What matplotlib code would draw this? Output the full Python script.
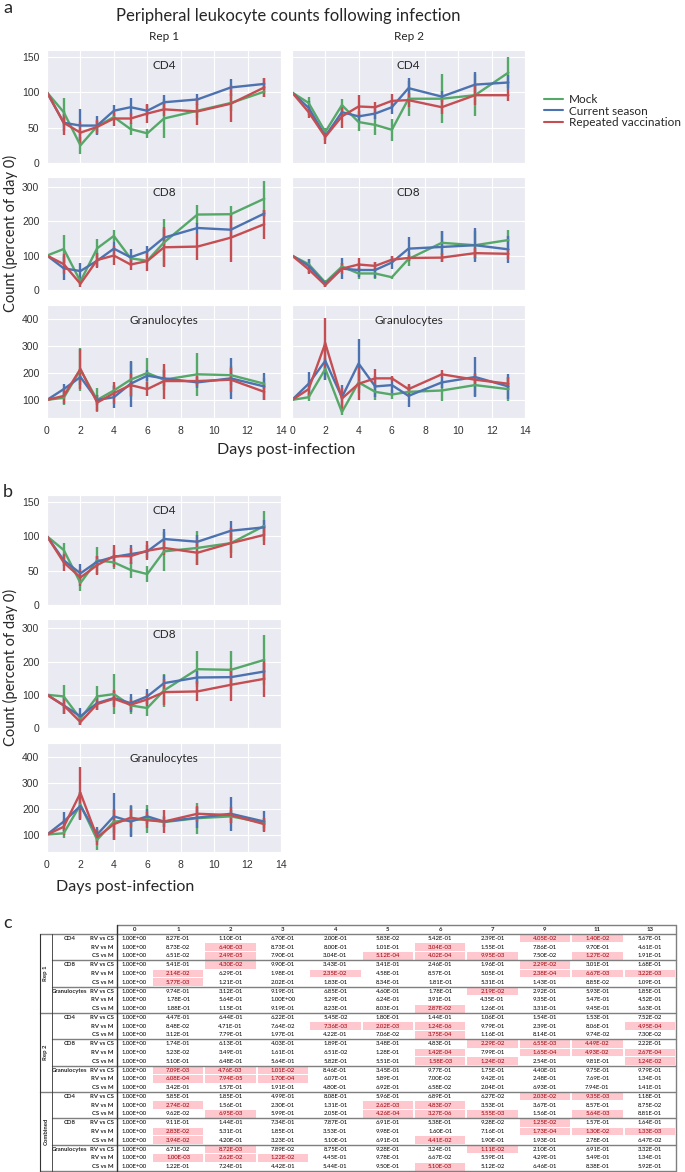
import matplotlib
matplotlib.use('Agg')
import matplotlib.pyplot as plt
import matplotlib.patches as mplpatches
from matplotlib.lines import Line2D
import seaborn as sns

sns.set_style('darkgrid')
plt.rcParams['font.family'] = ['Lato', 'DejaVu Sans']

# ---------------- data ----------------
days = [0, 1, 2, 3, 4, 5, 6, 7, 9, 11, 13]
groups = ['Mock', 'Current season', 'Repeated vaccination']
groupColors = ['#55A868', '#4C72B0', '#C44E52']

# means / sd, rows = Mock, Current season, Repeated vaccination
rep1_cd4_mean = [[100, 72, 25, 52, 65, 48, 42, 63, 74, 85, 101],
                 [100, 57, 53, 53, 74, 79, 74, 86, 90, 107, 112],
                 [100, 57, 43, 51, 63, 63, 70, 76, 73, 84, 107]]
rep1_cd4_sd = [[0, 20, 12, 8, 6, 9, 6, 27, 10, 12, 8],
               [0, 12, 24, 13, 8, 13, 8, 10, 8, 12, 8],
               [0, 17, 15, 10, 10, 8, 13, 10, 19, 26, 14]]
rep2_cd4_mean = [[100, 85, 44, 82, 58, 54, 47, 91, 91, 96, 128],
                 [100, 78, 38, 72, 66, 70, 79, 106, 94, 111, 114],
                 [100, 72, 37, 66, 80, 79, 88, 89, 79, 96, 96]]
rep2_cd4_sd = [[0, 8, 5, 8, 12, 14, 16, 25, 35, 30, 22],
               [0, 10, 6, 6, 8, 8, 10, 15, 8, 18, 10],
               [0, 8, 10, 16, 16, 8, 10, 10, 10, 14, 8]]

rep1_cd8_mean = [[100, 119, 25, 121, 157, 92, 85, 138, 219, 220, 265],
                 [100, 63, 55, 85, 120, 95, 112, 152, 180, 175, 222],
                 [100, 75, 18, 87, 100, 74, 84, 124, 126, 152, 191]]
rep1_cd8_sd = [[0, 40, 10, 28, 18, 10, 10, 68, 28, 25, 50],
               [0, 35, 22, 22, 20, 25, 15, 25, 15, 20, 10],
               [0, 30, 8, 20, 28, 15, 30, 58, 40, 70, 42]]
rep2_cd8_mean = [[100, 75, 22, 68, 48, 48, 37, 90, 137, 130, 145],
                 [100, 70, 18, 62, 58, 58, 80, 120, 125, 130, 118],
                 [100, 60, 14, 62, 74, 70, 88, 93, 94, 107, 105]]
rep2_cd8_sd = [[0, 15, 8, 10, 15, 15, 5, 20, 35, 40, 30],
               [0, 20, 8, 30, 20, 22, 20, 35, 45, 50, 40],
               [0, 15, 5, 15, 20, 10, 10, 10, 12, 15, 15]]

rep1_gran_mean = [[100, 108, 212, 100, 135, 175, 200, 175, 195, 192, 160],
                  [100, 140, 185, 100, 110, 160, 190, 180, 165, 180, 150],
                  [100, 115, 215, 90, 125, 155, 140, 170, 170, 175, 130]]
rep1_gran_sd = [[0, 25, 80, 45, 20, 65, 55, 40, 80, 35, 20],
                [0, 20, 30, 20, 40, 85, 20, 30, 20, 75, 50],
                [0, 30, 75, 30, 40, 40, 25, 65, 20, 45, 30]]
rep2_gran_mean = [[100, 110, 215, 55, 165, 130, 120, 130, 135, 155, 140],
                  [100, 160, 245, 110, 235, 150, 155, 115, 165, 185, 150],
                  [100, 140, 310, 105, 160, 180, 180, 140, 195, 175, 160]]
rep2_gran_sd = [[0, 15, 40, 10, 40, 30, 15, 20, 40, 40, 45],
                [0, 45, 70, 45, 90, 40, 30, 40, 20, 75, 45],
                [0, 30, 95, 40, 60, 35, 10, 20, 15, 25, 25]]

comb_cd4_mean = [[100, 80, 32, 65, 62, 51, 45, 78, 83, 90, 115],
                 [100, 65, 46, 63, 70, 74, 78, 96, 92, 108, 113],
                 [100, 62, 40, 58, 71, 71, 79, 83, 76, 90, 102]]
comb_cd4_sd = [[0, 10, 12, 20, 10, 12, 12, 28, 25, 15, 22],
               [0, 8, 14, 8, 10, 14, 10, 15, 10, 14, 10],
               [0, 12, 12, 14, 16, 12, 14, 10, 18, 22, 14]]
comb_cd8_mean = [[100, 95, 28, 95, 102, 68, 60, 113, 177, 175, 205],
                 [100, 68, 35, 75, 90, 75, 95, 135, 152, 153, 170],
                 [100, 68, 18, 72, 88, 70, 86, 108, 110, 130, 148]]
comb_cd8_sd = [[0, 35, 15, 32, 60, 25, 25, 50, 55, 58, 75],
               [0, 25, 25, 20, 20, 28, 22, 25, 20, 20, 25],
               [0, 25, 8, 18, 25, 15, 20, 40, 30, 50, 55]]
comb_gran_mean = [[100, 105, 215, 80, 150, 155, 160, 148, 163, 170, 145],
                  [100, 150, 210, 100, 170, 150, 170, 150, 165, 180, 150],
                  [100, 130, 260, 90, 140, 165, 155, 150, 180, 175, 140]]
comb_gran_sd = [[0, 20, 50, 40, 45, 60, 55, 20, 60, 25, 20],
                [0, 35, 55, 30, 90, 60, 30, 20, 40, 65, 40],
                [0, 30, 100, 30, 60, 35, 30, 45, 30, 30, 25]]

# p-value table (panel c)
tableDays = ['0', '1', '2', '3', '4', '5', '6', '7', '9', '11', '13']
tableReps = ['Rep 1', 'Rep 2', 'Combined']
tableCells = ['CD4', 'CD8', 'Granulocytes']
tableComps = ['RV vs CS', 'RV vs M', 'CS vs M']
rep1_p = [[1.00, 8.27e-01, 1.10e-01, 6.70e-01, 2.00e-01, 5.83e-02, 5.42e-01, 2.39e-01, 4.05e-02, 1.40e-02, 5.67e-01],
          [1.00, 8.73e-02, 6.40e-03, 8.73e-01, 8.00e-01, 1.01e-01, 3.04e-03, 1.55e-01, 7.86e-01, 9.70e-01, 4.61e-01],
          [1.00, 6.51e-02, 2.49e-05, 7.90e-01, 3.04e-01, 5.12e-04, 4.02e-04, 9.95e-03, 7.50e-02, 1.27e-02, 1.91e-01],
          [1.00, 5.41e-01, 4.30e-02, 9.90e-01, 3.43e-01, 3.41e-01, 2.46e-01, 1.96e-01, 2.29e-02, 3.01e-01, 1.68e-01],
          [1.00, 2.14e-02, 6.29e-01, 1.98e-01, 2.35e-02, 4.58e-01, 8.57e-01, 5.05e-01, 2.38e-04, 6.67e-03, 3.22e-03],
          [1.00, 5.77e-03, 1.21e-01, 2.02e-01, 1.83e-01, 8.34e-01, 1.81e-01, 5.31e-01, 1.43e-01, 8.85e-02, 1.09e-01],
          [1.00, 9.74e-01, 3.12e-01, 9.19e-01, 6.85e-01, 4.60e-01, 1.78e-01, 2.19e-02, 2.92e-01, 5.93e-01, 1.85e-01],
          [1.00, 1.78e-01, 5.64e-01, 1.00, 5.29e-01, 6.24e-01, 3.91e-01, 4.35e-01, 9.35e-01, 5.47e-01, 4.52e-01],
          [1.00, 1.88e-01, 1.15e-01, 9.19e-01, 8.23e-01, 8.03e-01, 2.87e-02, 1.26e-01, 3.31e-01, 9.45e-01, 5.63e-01]]
rep2_p = [[1.00, 4.47e-01, 6.44e-01, 6.22e-01, 5.45e-02, 1.80e-01, 1.44e-01, 1.06e-01, 1.54e-01, 1.53e-01, 7.52e-02],
          [1.00, 8.48e-02, 4.71e-01, 7.64e-02, 7.36e-03, 2.02e-03, 1.24e-06, 9.79e-01, 2.39e-01, 8.06e-01, 4.95e-04],
          [1.00, 3.12e-01, 7.79e-01, 1.97e-01, 4.22e-01, 7.06e-02, 3.75e-04, 1.16e-01, 8.14e-01, 9.74e-02, 7.30e-02],
          [1.00, 1.74e-01, 6.13e-01, 4.03e-01, 1.89e-01, 3.48e-01, 4.83e-01, 2.29e-02, 6.55e-03, 4.49e-02, 2.22e-01],
          [1.00, 5.23e-02, 3.49e-01, 1.61e-01, 6.51e-02, 1.28e-01, 1.42e-04, 7.99e-01, 1.65e-04, 4.93e-02, 2.67e-04],
          [1.00, 5.10e-01, 6.48e-01, 5.64e-01, 5.82e-01, 5.51e-01, 1.58e-03, 1.24e-02, 2.54e-01, 9.81e-01, 1.24e-02],
          [1.00, 7.09e-03, 4.76e-03, 1.01e-02, 8.46e-01, 3.45e-01, 9.77e-01, 1.75e-01, 4.40e-01, 9.75e-01, 9.79e-01],
          [1.00, 6.08e-04, 7.94e-05, 1.70e-04, 6.07e-01, 5.89e-01, 7.00e-02, 9.42e-01, 2.48e-01, 7.69e-01, 1.34e-01],
          [1.00, 3.42e-01, 1.57e-01, 1.91e-01, 4.80e-01, 6.92e-01, 6.58e-02, 2.04e-01, 6.93e-01, 7.94e-01, 1.41e-01]]
comb_p = [[1.00, 5.85e-01, 1.85e-01, 4.99e-01, 8.08e-01, 5.96e-01, 6.89e-01, 6.27e-02, 2.03e-02, 9.35e-03, 1.18e-01],
          [1.00, 2.74e-02, 1.56e-01, 2.30e-01, 1.31e-01, 2.62e-03, 4.83e-07, 3.53e-01, 3.67e-01, 8.57e-01, 8.75e-02],
          [1.00, 9.62e-02, 6.95e-03, 5.99e-01, 2.05e-01, 4.26e-04, 3.27e-06, 5.55e-03, 1.56e-01, 5.64e-03, 8.81e-01],
          [1.00, 9.11e-01, 1.44e-01, 7.34e-01, 7.87e-01, 6.91e-01, 5.38e-01, 9.28e-02, 1.25e-02, 1.57e-01, 1.64e-01],
          [1.00, 2.83e-02, 5.31e-01, 1.85e-01, 3.53e-01, 9.98e-01, 1.60e-01, 7.16e-01, 1.73e-04, 1.30e-02, 1.33e-03],
          [1.00, 3.94e-02, 4.20e-01, 3.23e-01, 5.10e-01, 6.91e-01, 4.41e-02, 1.90e-01, 1.93e-01, 2.78e-01, 6.47e-02],
          [1.00, 6.71e-02, 8.72e-03, 7.89e-02, 8.75e-01, 9.28e-01, 3.24e-01, 1.11e-02, 2.10e-01, 6.91e-01, 3.32e-01],
          [1.00, 1.00e-03, 2.62e-02, 1.22e-02, 4.45e-01, 9.78e-01, 6.67e-02, 5.59e-01, 4.29e-01, 5.49e-01, 1.34e-01],
          [1.00, 1.22e-01, 7.24e-01, 4.42e-01, 5.44e-01, 9.50e-01, 5.10e-03, 5.12e-02, 6.46e-01, 8.38e-01, 5.92e-01]]

# ---------------- figure ----------------
W, H = 685, 1172
fig = plt.figure(figsize=(W / 100, H / 100), dpi=100)


def px_axes(x0, y0, x1, y1):
    return fig.add_axes([x0 / W, 1 - y1 / H, (x1 - x0) / W, (y1 - y0) / H])


def draw_panel(ax, means, sds, name, ylim, yticks, showX, showY):
    for m, s, c in zip(means, sds, groupColors):
        ax.errorbar(days, m, yerr=s, color=c, lw=1.7, elinewidth=1.7, capsize=0)
    ax.set_xlim(0, 14)
    ax.set_xticks(range(0, 15, 2))
    ax.set_ylim(*ylim)
    ax.set_yticks(yticks)
    ax.text(0.5, 0.86, name, transform=ax.transAxes, ha='center', va='center', fontsize=8.5)
    ax.tick_params(labelbottom=showX, labelleft=showY, labelsize=7.5, pad=2, colors='#333333')
    for lab in ax.get_xticklabels() + ax.get_yticklabels():
        lab.set_family('Liberation Sans')


lims = {'CD4': ((0, 160), [0, 50, 100, 150]),
        'CD8': ((0, 328), [0, 100, 200, 300]),
        'Granulocytes': ((33, 452), [100, 200, 300, 400])}

# panel a
rowsA = [(50, 163), (177, 290), (305, 418)]
colsA = [(47, 281), (292, 525)]
dataA = [[(rep1_cd4_mean, rep1_cd4_sd), (rep2_cd4_mean, rep2_cd4_sd)],
         [(rep1_cd8_mean, rep1_cd8_sd), (rep2_cd8_mean, rep2_cd8_sd)],
         [(rep1_gran_mean, rep1_gran_sd), (rep2_gran_mean, rep2_gran_sd)]]
for r, (y0, y1) in enumerate(rowsA):
    for c, (x0, x1) in enumerate(colsA):
        ax = px_axes(x0, y0, x1, y1)
        m, s = dataA[r][c]
        ylim, yt = lims[tableCells[r]]
        draw_panel(ax, m, s, tableCells[r], ylim, yt, r == 2, c == 0)
        if r == 0:
            ax.set_title(['Rep 1', 'Rep 2'][c], fontsize=8.5, pad=7)

fig.text(3 / W, 1 - 8 / H, 'a', fontsize=13, va='center', ha='left')
fig.text(288 / W, 1 - 16 / H, 'Peripheral leukocyte counts following infection', fontsize=12, ha='center', va='center')
fig.text(10 / W, 1 - 233 / H, 'Count (percent of day 0)', fontsize=10.5, rotation=90, ha='center', va='center')
fig.text(286 / W, 1 - 450 / H, 'Days post-infection', fontsize=11.5, ha='center', va='center')

handles = [Line2D([], [], color=c, lw=1.5) for c in groupColors]
fig.legend(handles, groups, loc='upper left', bbox_to_anchor=(544 / W, 1 - 94 / H), frameon=False,
           fontsize=8.5, handlelength=1.6, handletextpad=0.5, labelspacing=0.05, borderpad=0, borderaxespad=0)

# panel b
rowsB = [(495, 605), (619, 728), (743, 852)]
dataB = [(comb_cd4_mean, comb_cd4_sd), (comb_cd8_mean, comb_cd8_sd), (comb_gran_mean, comb_gran_sd)]
for r, (y0, y1) in enumerate(rowsB):
    ax = px_axes(47, y0, 281, y1)
    ylim, yt = lims[tableCells[r]]
    draw_panel(ax, dataB[r][0], dataB[r][1], tableCells[r], ylim, yt, r == 2, True)

fig.text(3 / W, 1 - 492 / H, 'b', fontsize=13, va='center', ha='left')
fig.text(10 / W, 1 - 667 / H, 'Count (percent of day 0)', fontsize=10.5, rotation=90, ha='center', va='center')
fig.text(125 / W, 1 - 887 / H, 'Days post-infection', fontsize=11.5, ha='center', va='center')

# panel c: table
fig.text(3 / W, 1 - 923 / H, 'c', fontsize=13, va='center', ha='left')
tab = fig.add_axes([0, 0, 1, 1])
tab.set_xlim(0, W)
tab.set_ylim(H, 0)
tab.axis('off')

xLeft, xRep, xCompR, xVal, xRight = 40, 52, 114, 117, 676
col0w = 35
colw = (xRight - xVal - col0w) / 10
colEdges = [xVal, xVal + col0w] + [xVal + col0w + colw * i for i in range(1, 11)]
yHead, yRows = 925, 934
rowh = (1171 - yRows) / 27
fs = 4.3
lineCol = '#7f7f7f'

for j, d in enumerate(tableDays):
    tab.text((colEdges[j] + colEdges[j + 1]) / 2, (yHead + yRows) / 2, d, fontsize=fs, fontweight='bold',
             ha='center', va='center')

allP = [rep1_p, rep2_p, comb_p]
for g, rep in enumerate(tableReps):
    gTop = yRows + g * 9 * rowh
    tab.text((xLeft + xRep) / 2, gTop + 4.5 * rowh, rep, fontsize=fs, fontweight='bold', rotation=90,
             ha='center', va='center')
    for k, cell in enumerate(tableCells):
        cTop = gTop + k * 3 * rowh
        tab.text(70, cTop + 0.5 * rowh, cell, fontsize=fs, fontweight='bold', ha='center', va='center')
        for i, comp in enumerate(tableComps):
            yc = cTop + (i + 0.5) * rowh
            tab.text(xCompR, yc, comp, fontsize=fs, fontweight='bold', ha='right', va='center')
            for j, p in enumerate(allP[g][k * 3 + i]):
                xa, xb = colEdges[j], colEdges[j + 1]
                sig = p < 0.05
                if sig:
                    tab.add_patch(mplpatches.Rectangle((xa + 1, yc - rowh / 2 + 0.5), xb - xa - 2, rowh - 1,
                                                       facecolor='#FFC7CE', edgecolor='none'))
                tab.text((xa + xb) / 2, yc, f'{p:.2E}', fontsize=fs, ha='center', va='center',
                         color='#9C0006' if sig else 'black')
        # separator under each cell-type group
        xs = xLeft if k == 2 else xRep
        tab.plot([xs, xRight], [cTop + 3 * rowh] * 2, color=lineCol, lw=1.0)

# borders
tab.plot([xVal, xRight], [yHead, yHead], color=lineCol, lw=1.0)
tab.plot([xLeft, xRight], [yRows, yRows], color=lineCol, lw=1.0)
tab.plot([xLeft, xLeft], [yRows, yRows + 27 * rowh], color='#333333', lw=0.8)
tab.plot([xRep, xRep], [yRows, yRows + 27 * rowh], color='#333333', lw=0.6)
tab.plot([xVal, xVal], [yHead, yRows + 27 * rowh], color='#333333', lw=1.0)
tab.plot([xRight, xRight], [yHead, yRows + 27 * rowh], color=lineCol, lw=1.0)

fig.savefig('out.png', dpi=100)
